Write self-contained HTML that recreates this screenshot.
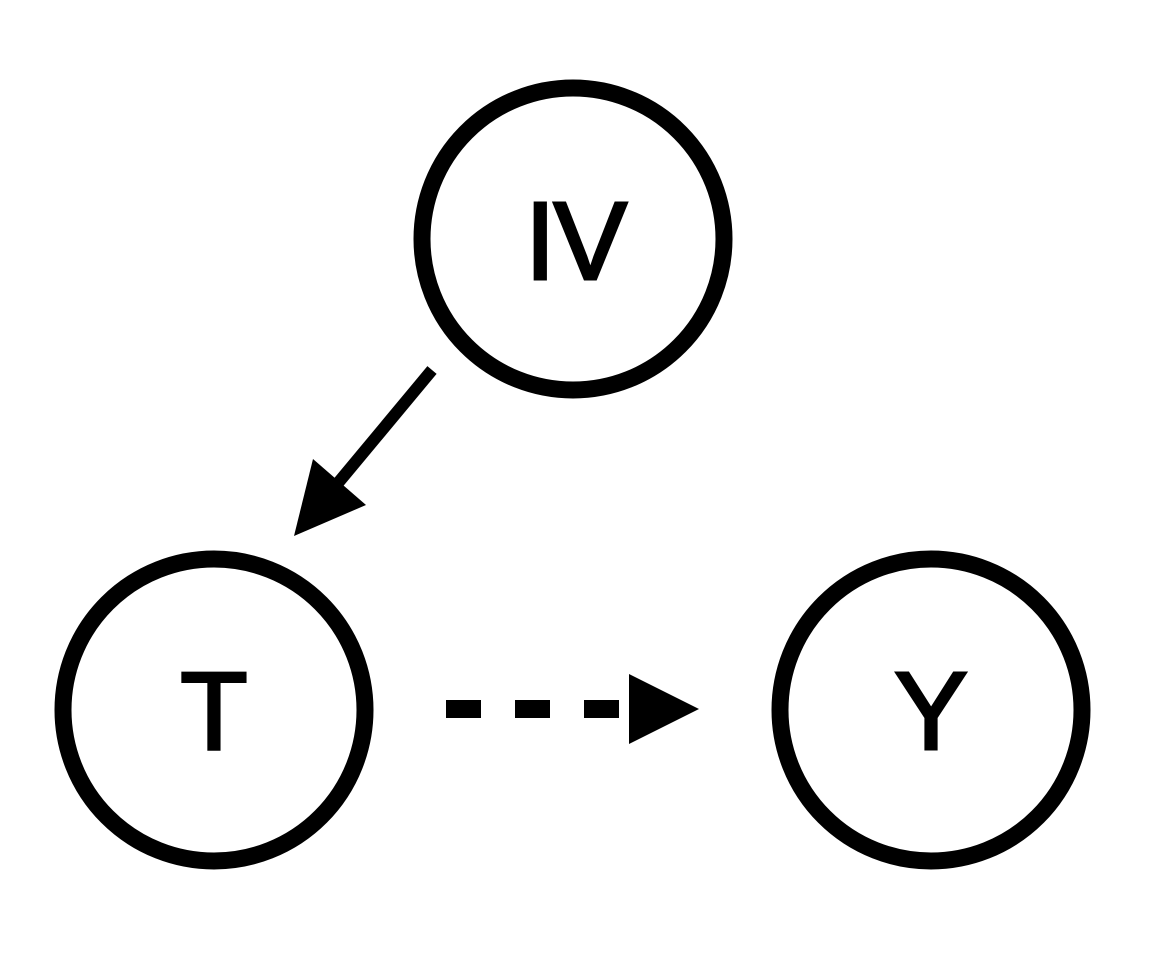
<!DOCTYPE html>
<html><head><style>html,body{margin:0;padding:0;background:#fff;}</style></head>
<body>
<svg width="1155" height="951" viewBox="0 0 1155 951" xmlns="http://www.w3.org/2000/svg">
<rect width="1155" height="951" fill="#fff"/>
<g fill="none" stroke="#000" stroke-width="17">
<circle cx="573" cy="239" r="151"/>
<circle cx="214" cy="710" r="151"/>
<circle cx="931" cy="710" r="151"/>
</g>
<g font-family="Liberation Sans, Arial, sans-serif" font-size="110" text-anchor="middle" fill="#000" stroke="#000" stroke-width="3">
<text x="575" y="279" letter-spacing="-2">IV</text>
<text x="214" y="749">T</text>
<text x="931" y="749">Y</text>
</g>
<line x1="432" y1="370" x2="338" y2="483" stroke="#000" stroke-width="12"/>
<polygon points="313,459 366,505 294,536" fill="#000"/>
<line x1="446" y1="709" x2="625" y2="709" stroke="#000" stroke-width="18" stroke-dasharray="35,34"/>
<polygon points="629,674 699,709 629,744" fill="#000"/>
</svg>
</body></html>
